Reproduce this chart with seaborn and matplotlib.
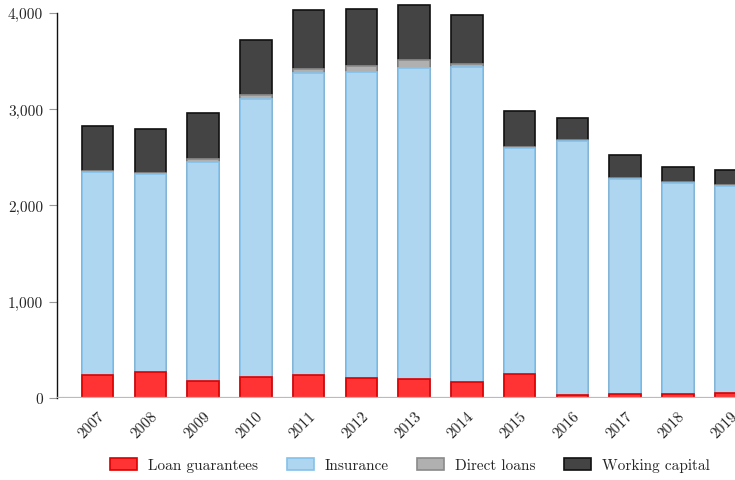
import numpy as np
import pandas as pd
import seaborn as sns
import matplotlib.pyplot as plt
from matplotlib.patches import Patch
from matplotlib.ticker import FuncFormatter

# values
years = ["2007", "2008", "2009", "2010", "2011", "2012", "2013",
         "2014", "2015", "2016", "2017", "2018", "2019"]
loan_guarantees = [239, 270, 177, 218, 239, 208, 197, 166, 249, 35, 42, 42, 55]
insurance = [2113, 2054, 2272, 2889, 3135, 3179, 3235, 3277, 2352, 2639, 2234, 2195, 2148]
direct_loans = [5, 17, 35, 45, 48, 66, 77, 28, 5, 5, 5, 5, 5]
working_capital = [466, 452, 476, 563, 608, 591, 576, 511, 371, 229, 246, 161, 163]

series_names = ["Loan guarantees", "Insurance", "Direct loans", "Working capital"]
face = ["#ff3333", "#aed6f1", "#b0b0b0", "#444444"]
edge = ["#dd0000", "#85c1e9", "#8a8a8a", "#111111"]

sns.set_style("white")
plt.rcParams["font.family"] = ["cmr10", "DejaVu Serif"]
plt.rcParams["axes.formatter.use_mathtext"] = True

df = pd.DataFrame({
    "year": years,
    "Loan guarantees": loan_guarantees,
    "Insurance": insurance,
    "Direct loans": direct_loans,
    "Working capital": working_capital,
})
# stacked heights, drawn tallest first so lower segments sit on top
cum = df[series_names].cumsum(axis=1)

fig = plt.figure(figsize=(7.35, 4.81), dpi=100)
ax = fig.add_axes([57 / 735, 82 / 481, 700 / 735, 399 / 481])

for i in range(3, -1, -1):
    sns.barplot(x=df["year"], y=cum[series_names[i]], color=face[i],
                edgecolor=edge[i], linewidth=1.2, width=0.6, saturation=1,
                ax=ax, zorder=2)

ax.set_xlim(-0.77, 12.5)
ax.set_ylim(0, 4145)
ax.set_yticks([0, 1000, 2000, 3000, 4000])
ax.yaxis.set_major_formatter(FuncFormatter(lambda v, p: f"{v:,.0f}"))
ax.axhline(0, color="#bbbbbb", lw=1.6, zorder=3)

for s in ["top", "right", "bottom"]:
    ax.spines[s].set_visible(False)
ax.spines["left"].set_bounds(0, 4000)
ax.spines["left"].set_color("#111111")
ax.spines["left"].set_linewidth(1)

ax.tick_params(axis="y", left=True, length=6, color="#999999", labelsize=11, pad=4)
ax.tick_params(axis="x", bottom=False, labelsize=11, pad=4)
plt.setp(ax.get_xticklabels(), rotation=45, ha="right", rotation_mode="anchor")
ax.set_xlabel("")
ax.set_ylabel("")

handles = [Patch(facecolor=face[i], edgecolor=edge[i], linewidth=1.2)
           for i in range(4)]
fig.legend(handles, series_names, loc="center", bbox_to_anchor=(410 / 735, 1 - 466 / 481),
           ncol=4, frameon=False, fontsize=11, handlelength=1.77, handleheight=0.85,
           columnspacing=1.85, handletextpad=0.72)

fig.savefig("out.png", dpi=100)
